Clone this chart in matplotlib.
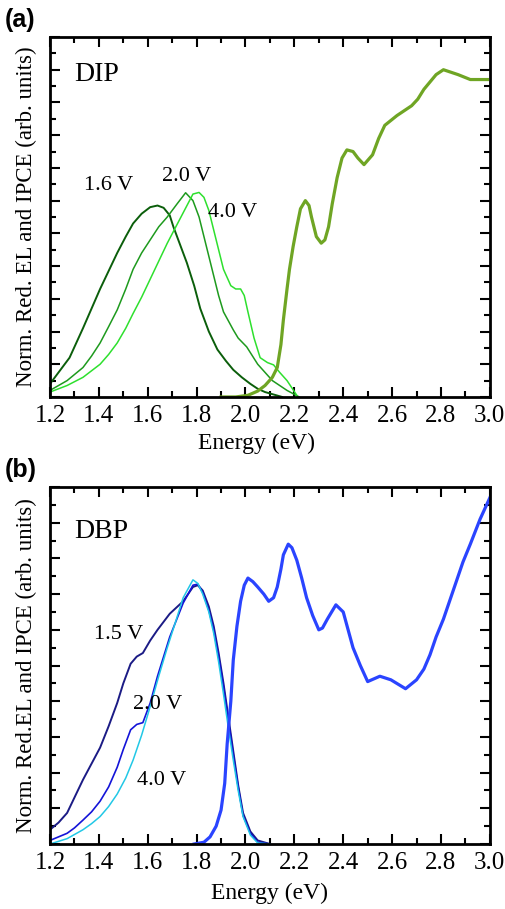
import matplotlib
matplotlib.use("Agg")
import matplotlib.pyplot as plt
from matplotlib.ticker import MultipleLocator, NullFormatter

# ---- panel (a): DIP ----
dip_ipce_e = [1.90, 1.96, 2.01, 2.05, 2.08, 2.11, 2.13, 2.145, 2.155, 2.17, 2.18, 2.195, 2.21,
              2.225, 2.245, 2.26, 2.27, 2.29, 2.31, 2.325, 2.34, 2.355, 2.375, 2.395, 2.415,
              2.44, 2.46, 2.485, 2.52, 2.545, 2.57, 2.62, 2.68, 2.705, 2.73, 2.78, 2.81,
              2.87, 2.92, 2.99]
dip_ipce_v = [0.0, 0.0, 0.005, 0.018, 0.035, 0.06, 0.09, 0.16, 0.235, 0.33, 0.39, 0.46, 0.52,
              0.575, 0.60, 0.585, 0.55, 0.49, 0.47, 0.48, 0.52, 0.59, 0.67, 0.73, 0.755,
              0.75, 0.73, 0.71, 0.74, 0.79, 0.83, 0.86, 0.89, 0.91, 0.94, 0.985, 1.0,
              0.985, 0.97, 0.97]

dip_16_e = [1.20, 1.24, 1.28, 1.335, 1.37, 1.405, 1.44, 1.475, 1.51, 1.54, 1.575, 1.61, 1.64,
            1.665, 1.69, 1.705, 1.73, 1.76, 1.79, 1.815, 1.85, 1.885, 1.92, 1.95, 1.985,
            2.02, 2.05, 2.08, 2.15]
dip_16_v = [0.04, 0.08, 0.12, 0.21, 0.27, 0.33, 0.385, 0.44, 0.49, 0.53, 0.56, 0.58, 0.585,
            0.578, 0.555, 0.52, 0.47, 0.41, 0.34, 0.27, 0.2, 0.145, 0.11, 0.083, 0.06,
            0.04, 0.025, 0.015, 0.0]

dip_20_e = [1.20, 1.27, 1.335, 1.37, 1.405, 1.44, 1.475, 1.51, 1.54, 1.575, 1.61, 1.645, 1.68,
            1.72, 1.755, 1.785, 1.81, 1.83, 1.85, 1.87, 1.89, 1.91, 1.95, 1.97, 2.005,
            2.05, 2.11, 2.17, 2.22]
dip_20_v = [0.02, 0.05, 0.09, 0.125, 0.165, 0.215, 0.266, 0.33, 0.39, 0.44, 0.48, 0.52, 0.55,
            0.59, 0.624, 0.60, 0.55, 0.49, 0.43, 0.37, 0.31, 0.26, 0.205, 0.18, 0.153,
            0.1, 0.05, 0.02, 0.0]

dip_40_e = [1.20, 1.27, 1.335, 1.37, 1.405, 1.44, 1.475, 1.51, 1.54, 1.575, 1.61, 1.645, 1.68,
            1.715, 1.75, 1.785, 1.81, 1.83, 1.85, 1.87, 1.89, 1.91, 1.94, 1.96, 1.98, 1.995,
            2.01, 2.035, 2.06, 2.09, 2.115, 2.14, 2.17, 2.21]
dip_40_v = [0.015, 0.035, 0.06, 0.08, 0.10, 0.13, 0.165, 0.21, 0.255, 0.305, 0.36, 0.415, 0.47,
            0.52, 0.57, 0.62, 0.625, 0.61, 0.57, 0.51, 0.45, 0.39, 0.34, 0.33, 0.33, 0.31,
            0.26, 0.18, 0.12, 0.105, 0.098, 0.075, 0.05, 0.005]

# ---- panel (b): DBP ----
dbp_ipce_e = [1.79, 1.83, 1.855, 1.88, 1.90, 1.915, 1.925, 1.94, 1.95, 1.965, 1.98, 1.995,
              2.01, 2.03, 2.05, 2.075, 2.095, 2.115, 2.13, 2.145, 2.155, 2.175, 2.19, 2.21,
              2.23, 2.25, 2.275, 2.30, 2.315, 2.335, 2.37, 2.40, 2.42, 2.44, 2.47, 2.50,
              2.55, 2.595, 2.655, 2.70, 2.73, 2.755, 2.78, 2.81, 2.84, 2.865, 2.89, 2.92,
              2.96, 2.99, 3.0]
dbp_ipce_v = [0.0, 0.005, 0.02, 0.05, 0.095, 0.17, 0.28, 0.4, 0.515, 0.61, 0.68, 0.725,
              0.745, 0.735, 0.72, 0.70, 0.68, 0.69, 0.72, 0.77, 0.81, 0.84, 0.83, 0.795,
              0.745, 0.69, 0.64, 0.60, 0.605, 0.63, 0.67, 0.65, 0.60, 0.55, 0.5, 0.455,
              0.47, 0.46, 0.435, 0.46, 0.49, 0.53, 0.58, 0.63, 0.69, 0.74, 0.79, 0.84,
              0.91, 0.955, 0.97]

dbp_15_e = [1.20, 1.235, 1.27, 1.30, 1.335, 1.37, 1.405, 1.44, 1.475, 1.50, 1.53, 1.555, 1.58,
            1.61, 1.64, 1.69, 1.745, 1.785, 1.805, 1.825, 1.85, 1.87, 1.89, 1.91, 1.93,
            1.95, 1.97, 1.99, 2.02, 2.05, 2.10]
dbp_15_v = [0.04, 0.06, 0.087, 0.13, 0.18, 0.225, 0.27, 0.33, 0.395, 0.45, 0.505, 0.525, 0.535,
            0.57, 0.60, 0.645, 0.68, 0.72, 0.725, 0.71, 0.665, 0.61, 0.535, 0.45, 0.355,
            0.26, 0.165, 0.087, 0.035, 0.01, 0.0]

dbp_20_e = [1.20, 1.235, 1.27, 1.30, 1.335, 1.37, 1.405, 1.44, 1.475, 1.50, 1.53, 1.555, 1.58,
            1.61, 1.64, 1.69, 1.745, 1.785, 1.805, 1.825, 1.85, 1.87, 1.89, 1.91, 1.93,
            1.95, 1.97, 1.99, 2.02, 2.05, 2.10]
dbp_20_v = [0.01, 0.02, 0.03, 0.045, 0.067, 0.09, 0.12, 0.16, 0.215, 0.265, 0.32, 0.335, 0.34,
            0.395, 0.47, 0.58, 0.675, 0.725, 0.728, 0.705, 0.655, 0.60, 0.525, 0.44, 0.345,
            0.25, 0.16, 0.08, 0.03, 0.005, 0.0]

dbp_40_e = [1.20, 1.27, 1.335, 1.37, 1.405, 1.44, 1.475, 1.51, 1.54, 1.575, 1.61, 1.645, 1.68,
            1.715, 1.745, 1.785, 1.805, 1.825, 1.85, 1.87, 1.89, 1.91, 1.93, 1.95, 1.97,
            1.99, 2.02, 2.05, 2.10]
dbp_40_v = [0.0, 0.015, 0.04, 0.057, 0.077, 0.105, 0.14, 0.185, 0.235, 0.305, 0.385, 0.47, 0.55,
            0.625, 0.69, 0.74, 0.73, 0.70, 0.65, 0.59, 0.51, 0.42, 0.325, 0.235, 0.15,
            0.077, 0.025, 0.003, 0.0]

x_ticks = [1.2, 1.4, 1.6, 1.8, 2.0, 2.2, 2.4, 2.6, 2.8, 3.0]

plt.rcParams["font.family"] = ["Liberation Serif", "DejaVu Serif"]


def style_axes(ax, ymax, ylabel, xlabel_pad):
    ax.set_xlim(1.2, 3.0)
    ax.set_ylim(0, ymax)
    ax.set_xticks(x_ticks)
    ax.set_xticklabels([f"{t:.1f}" for t in x_ticks])
    ax.xaxis.set_minor_locator(MultipleLocator(0.1))
    ax.yaxis.set_major_locator(MultipleLocator(0.1))
    ax.yaxis.set_minor_locator(MultipleLocator(0.05))
    ax.yaxis.set_major_formatter(NullFormatter())
    ax.tick_params(which="both", direction="in", top=True, right=True, width=1.5)
    ax.tick_params(which="major", length=7, labelsize=18, pad=6)
    ax.tick_params(which="minor", length=4)
    for s in ax.spines.values():
        s.set_linewidth(2)
    ax.set_xlabel("Energy (eV)", fontsize=17, labelpad=xlabel_pad)
    ax.set_ylabel(ylabel, fontsize=16.5, labelpad=3)


fig = plt.figure(figsize=(5.05, 9.09), dpi=100)
ax1 = fig.add_axes([0.099, 0.5633, 0.871, 0.396])
ax2 = fig.add_axes([0.099, 0.0715, 0.871, 0.3927])

ax1.plot(dip_16_e, dip_16_v, color="#0b5e0b", lw=1.4)
ax1.plot(dip_20_e, dip_20_v, color="#1e9a1e", lw=1.1)
ax1.plot(dip_40_e, dip_40_v, color="#2ee02e", lw=1.1)
ax1.plot(dip_ipce_e, dip_ipce_v, color="#6fa524", lw=2.3)
style_axes(ax1, 1.1, "Norm. Red. EL and IPCE (arb. units)", 4)
ax1.xaxis.label.set_x(0.47)
ax1.text(1.30, 0.985, "DIP", fontsize=20, ha="left", va="center")
ax1.text(1.34, 0.645, "1.6 V", fontsize=16, ha="left", va="center")
ax1.text(1.66, 0.675, "2.0 V", fontsize=16, ha="left", va="center")
ax1.text(1.845, 0.565, "4.0 V", fontsize=16, ha="left", va="center")

ax2.plot(dbp_15_e, dbp_15_v, color="#1b1b85", lw=1.4)
ax2.plot(dbp_20_e, dbp_20_v, color="#1414d8", lw=1.2)
ax2.plot(dbp_40_e, dbp_40_v, color="#22c8e6", lw=1.1)
ax2.plot(dbp_ipce_e, dbp_ipce_v, color="#2a44ff", lw=2.3)
style_axes(ax2, 1.0, "Norm. Red.EL and IPCE (arb. units)", 6)
ax2.text(1.30, 0.875, "DBP", fontsize=20, ha="left", va="center")
ax2.text(1.38, 0.588, "1.5 V", fontsize=16, ha="left", va="center")
ax2.text(1.54, 0.39, "2.0 V", fontsize=16, ha="left", va="center")
ax2.text(1.555, 0.178, "4.0 V", fontsize=16, ha="left", va="center")

fig.text(0.01, 0.978, "(a)", fontsize=18, fontweight="bold",
         family=["Liberation Sans", "DejaVu Sans"], ha="left", va="center")
fig.text(0.01, 0.483, "(b)", fontsize=18, fontweight="bold",
         family=["Liberation Sans", "DejaVu Sans"], ha="left", va="center")

fig.savefig("out.png", dpi=100)
plt.close(fig)
